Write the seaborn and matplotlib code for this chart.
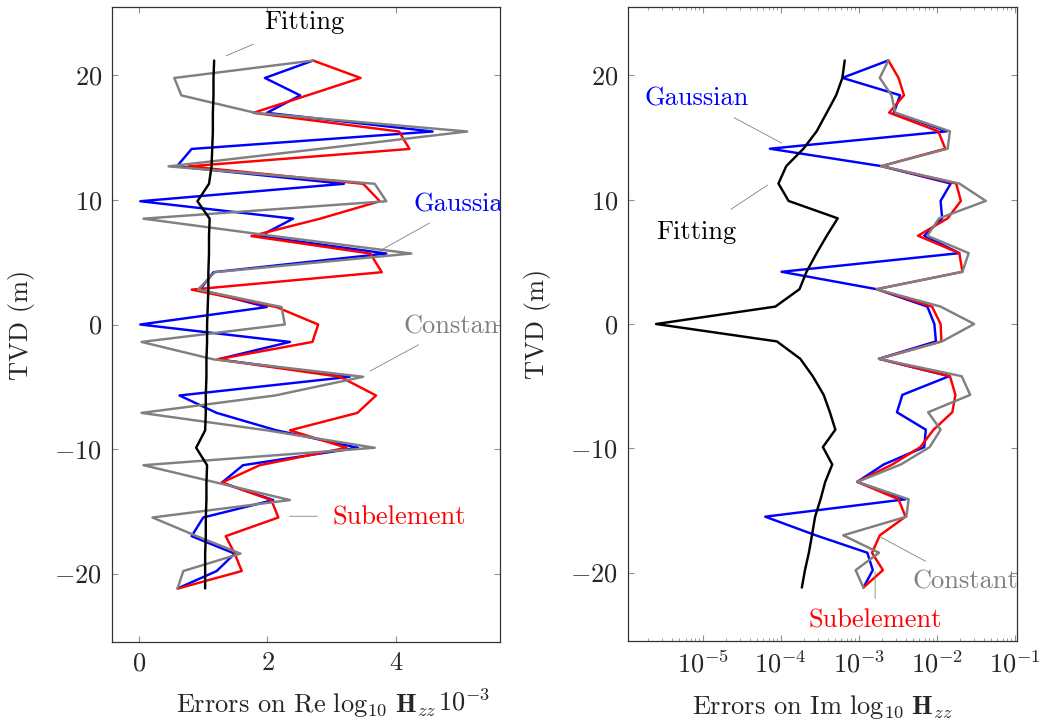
import numpy as np
import pandas as pd
import seaborn as sns
import matplotlib.pyplot as plt
from matplotlib.ticker import LogLocator, NullFormatter

# depth of the 31 stations (m)
tvd = [21.2, 19.8, 18.4, 17.0, 15.5, 14.1, 12.7, 11.3, 9.9, 8.5, 7.1, 5.7, 4.2, 2.8, 1.4, 0.0,
       -1.4, -2.8, -4.2, -5.7, -7.1, -8.5, -9.9, -11.3, -12.7, -14.1, -15.5, -17.0, -18.4, -19.8, -21.2]

methods = ["Gaussian", "Subelement", "Constant", "Fitting"]
colors = ["blue", "red", "gray", "black"]

# errors on Re log10 Hzz (x 1e-3)
re_gaussian = [2.71, 1.96, 2.51, 1.99, 4.57, 0.82, 0.59, 3.19, 0.02, 2.40, 1.88, 3.85, 1.16, 0.95, 1.99, 0.02,
               2.35, 1.23, 3.28, 0.63, 1.21, 2.14, 3.41, 1.62, 1.29, 2.09, 1.00, 0.82, 1.49, 1.21, 0.60]
re_subelement = [2.71, 3.45, 2.62, 1.78, 4.05, 4.21, 0.77, 3.49, 3.75, 2.82, 1.75, 3.60, 3.78, 0.82, 2.14, 2.79,
                 2.70, 1.22, 3.13, 3.69, 3.40, 2.35, 3.23, 1.88, 1.29, 2.06, 2.17, 1.35, 1.49, 1.60, 0.61]
re_constant = [2.71, 0.55, 0.66, 1.81, 5.11, 2.80, 0.46, 3.67, 3.85, 0.07, 2.10, 4.24, 1.18, 0.92, 2.22, 2.27,
               0.04, 1.16, 3.49, 2.12, 0.04, 1.99, 3.67, 0.07, 1.21, 2.35, 0.21, 0.90, 1.58, 0.69, 0.60]
re_fitting = [1.17, 1.16, 1.16, 1.15, 1.15, 1.14, 1.13, 1.09, 0.91, 1.10, 1.09, 1.09, 1.08, 1.08, 1.07, 1.06,
              1.06, 1.05, 1.05, 1.04, 1.04, 1.03, 0.89, 1.06, 1.05, 1.05, 1.04, 1.04, 1.03, 1.03, 1.03]

# errors on Im log10 Hzz, given as log10 of the error
im_gaussian = [-2.62, -3.21, -2.47, -2.55, -1.87, -4.14, -2.71, -1.82, -1.95, -1.93, -2.16, -1.71, -3.99, -2.77, -2.12, -2.03,
               -2.01, -2.74, -1.84, -2.44, -2.51, -2.14, -2.16, -2.68, -3.02, -2.40, -4.20, -3.55, -2.89, -2.82, -2.94]
im_subelement = [-2.62, -2.49, -2.42, -2.61, -1.98, -1.89, -2.71, -1.75, -1.69, -1.86, -2.24, -1.71, -1.67, -2.77, -2.06, -1.95,
                 -1.94, -2.74, -1.83, -1.76, -1.80, -2.04, -2.21, -2.57, -3.02, -2.49, -2.40, -2.73, -2.83, -2.69, -2.94]
im_constant = [-2.62, -2.73, -2.58, -2.53, -1.83, -1.86, -2.71, -1.71, -1.37, -1.97, -2.12, -1.59, -1.67, -2.77, -1.95, -1.52,
               -1.93, -2.74, -1.68, -1.57, -2.11, -1.95, -2.09, -2.46, -3.02, -2.36, -2.39, -3.20, -2.74, -3.04, -2.94]
im_fitting = [-3.18, -3.21, -3.29, -3.41, -3.54, -3.71, -3.93, -4.03, -3.90, -3.27, -3.41, -3.54, -3.67, -3.76, -4.07, -5.60,
              -4.05, -3.75, -3.59, -3.45, -3.37, -3.30, -3.46, -3.34, -3.43, -3.49, -3.56, -3.60, -3.64, -3.69, -3.73]


def long_table(series, log=False):
    rows = []
    for m, vals in zip(methods, series):
        for t, v in zip(tvd, vals):
            rows.append({"method": m, "tvd": t, "err": 10.0 ** v if log else v})
    return pd.DataFrame(rows)


df_re = long_table([re_gaussian, re_subelement, re_constant, re_fitting])
df_im = long_table([im_gaussian, im_subelement, im_constant, im_fitting], log=True)

sns.set_style("ticks")
plt.rcParams["font.family"] = "serif"
plt.rcParams["font.serif"] = ["cmr10"]
plt.rcParams["mathtext.fontset"] = "cm"
plt.rcParams["axes.formatter.use_mathtext"] = True

FS = 19
fig = plt.figure(figsize=(10.43, 7.22), dpi=100)
ax1 = fig.add_axes([112 / 1043, 80 / 722, 388 / 1043, 635 / 722])
ax2 = fig.add_axes([628 / 1043, 81 / 722, 389 / 1043, 634 / 722])

for ax, df in [(ax1, df_re), (ax2, df_im)]:
    sns.lineplot(data=df, x="err", y="tvd", hue="method", hue_order=methods, palette=colors,
                 sort=False, estimator=None, orient="y", lw=1.75, legend=False, ax=ax)
    ax.set_ylim(-25.5, 25.5)
    ax.set_yticks([-20, -10, 0, 10, 20])
    ax.set_ylabel("TVD (m)", fontsize=FS, labelpad=14)
    ax.tick_params(which="both", direction="in", top=True, right=True, color="#909090",
                   labelsize=FS, pad=7)
    ax.tick_params(which="major", length=4.3, width=0.8)
    ax.tick_params(which="minor", length=2.2, width=0.6)
    for s in ax.spines.values():
        s.set_color("#333333")
        s.set_linewidth(0.9)

# left panel
ax1.set_xlim(-0.42, 5.62)
ax1.set_xticks([0, 2, 4])
ax1.set_xlabel(r"Errors on $\mathrm{Re}\ \log_{10}\,\mathbf{H}_{zz}$", fontsize=FS, labelpad=11)
ax1.text(0.974, -0.094, r"$10^{-3}$", transform=ax1.transAxes, ha="right", va="center", fontsize=FS)

line_kw = dict(arrowprops=dict(arrowstyle="-", color="gray", lw=0.6))
ax1.annotate("", xy=(1.32, 21.5), xytext=(1.82, 22.6), **line_kw)
ax1.text(2.58, 24.3, "Fitting", color="black", fontsize=FS, ha="center", va="center")
ax1.annotate("", xy=(3.70, 5.77), xytext=(4.56, 8.26), **line_kw)
ax1.text(4.27, 9.6, "Gaussian", color="blue", fontsize=FS, ha="left", va="center", clip_on=True)
ax1.annotate("", xy=(3.56, -3.85), xytext=(4.39, -1.52), **line_kw)
ax1.text(4.12, -0.16, "Constant", color="gray", fontsize=FS, ha="left", va="center", clip_on=True)
ax1.annotate("", xy=(2.30, -15.4), xytext=(2.82, -15.4), **line_kw)
ax1.text(3.02, -15.5, "Subelement", color="red", fontsize=FS, ha="left", va="center", clip_on=True)

# right panel
ax2.set_xscale("log")
ax2.set_xlim(10 ** -5.96, 10 ** -0.97)
ax2.xaxis.set_major_locator(LogLocator(base=10, numticks=12))
ax2.xaxis.set_minor_locator(LogLocator(base=10, subs=np.arange(2, 10), numticks=12))
ax2.xaxis.set_minor_formatter(NullFormatter())
ax2.set_xlabel(r"Errors on $\mathrm{Im}\ \log_{10}\,\mathbf{H}_{zz}$", fontsize=FS, labelpad=11)

ax2.annotate("", xy=(10 ** -3.96, 14.45), xytext=(10 ** -4.63, 16.7), **line_kw)
ax2.text(10 ** -5.75, 18.1, "Gaussian", color="blue", fontsize=FS, ha="left", va="center")
ax2.annotate("", xy=(10 ** -4.14, 11.3), xytext=(10 ** -4.67, 9.1), **line_kw)
ax2.text(10 ** -5.60, 7.4, "Fitting", color="black", fontsize=FS, ha="left", va="center")
ax2.annotate("", xy=(10 ** -2.76, -17.0), xytext=(10 ** -2.11, -19.2), **line_kw)
ax2.text(10 ** -2.31, -20.7, "Constant", color="gray", fontsize=FS, ha="left", va="center")
ax2.annotate("", xy=(10 ** -2.79, -19.7), xytext=(10 ** -2.79, -22.3), **line_kw)
ax2.text(10 ** -3.65, -23.9, "Subelement", color="red", fontsize=FS, ha="left", va="center")

fig.savefig("out.png", dpi=100)
